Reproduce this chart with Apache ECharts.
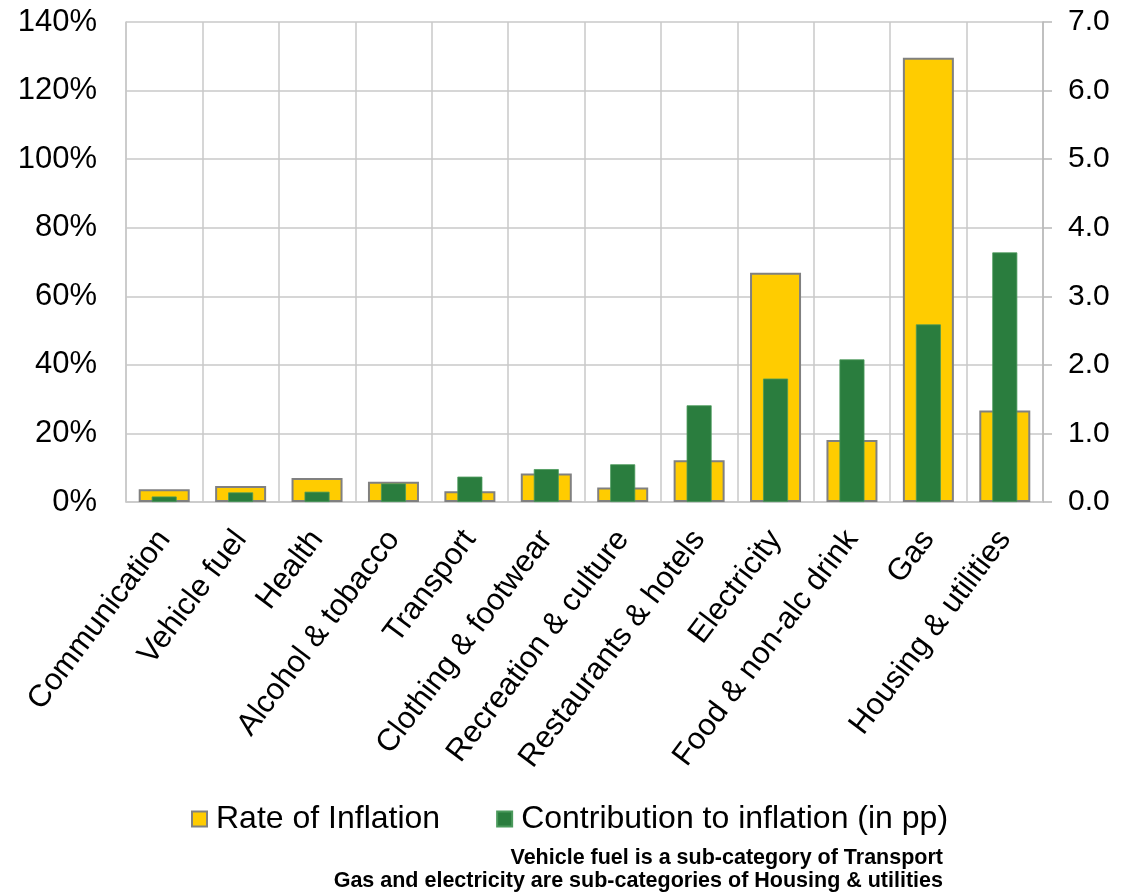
<!DOCTYPE html>
<html>
<head>
<meta charset="utf-8">
<title>Inflation by category</title>
<script src="https://cdn.jsdelivr.net/npm/echarts@6/dist/echarts.min.js"></script>
<style>
  html, body { margin: 0; padding: 0; background: #ffffff; }
  #chart { width: 1132px; height: 892px; }
</style>
</head>
<body>
<div id="chart"></div>
<script>
// Categories, ordered by contribution to inflation
const categories = [
  'Communication', 'Vehicle fuel', 'Health', 'Alcohol & tobacco', 'Transport',
  'Clothing & footwear', 'Recreation & culture', 'Restaurants & hotels',
  'Electricity', 'Food & non-alc drink', 'Gas', 'Housing & utilities'
];
// Annual rate of inflation, in percent (left axis)
const rateOfInflation = [3.7, 4.7, 7.0, 5.9, 3.1, 8.3, 4.2, 12.2, 66.9, 18.1, 129.6, 26.7];
// Contribution to headline inflation, in percentage points (right axis)
const contribution = [0.08, 0.14, 0.15, 0.27, 0.37, 0.48, 0.55, 1.41, 1.80, 2.08, 2.59, 3.64];
// Axis ranges
const leftTicks = { min: 0, max: 140, interval: 20 };
const rightTicks = { min: 0, max: 7, interval: 1 };
// Notes under the legend
const notes = [
  'Vehicle fuel is a sub-category of Transport',
  'Gas and electricity are sub-categories of Housing & utilities'
];

const FONT = '"Liberation Sans", Arial, Helvetica, sans-serif';
const GRID_COLOR = '#c9c9c9';
const YELLOW = '#FFCC00';
const GREEN = '#2A7D3E';

const chart = echarts.init(document.getElementById('chart'), null, { renderer: 'canvas' });

chart.setOption({
  backgroundColor: '#ffffff',
  animation: false,
  textStyle: { fontFamily: FONT },
  grid: { left: 126, right: 89, top: 22, height: 480, containLabel: false },
  legend: {
    left: 191,
    top: 803,
    padding: 0,
    itemWidth: 15,
    itemHeight: 15,
    itemGap: 56,
    icon: 'rect',
    textStyle: { fontSize: 32, color: '#000000', fontFamily: FONT, padding: [0, 0, 0, 4] },
    data: ['Rate of Inflation', 'Contribution to inflation (in pp)']
  },
  xAxis: [
    {
      type: 'category',
      data: categories,
      axisLine: { show: true, lineStyle: { color: GRID_COLOR, width: 1.5 } },
      axisTick: { show: false },
      splitLine: { show: true, interval: 0, lineStyle: { color: GRID_COLOR, width: 1.5 } },
      axisLabel: {
        interval: 0,
        rotate: 53,
        margin: 32,
        fontSize: 31,
        color: '#000000',
        fontFamily: FONT
      }
    },
    {
      type: 'category',
      data: categories,
      show: false
    }
  ],
  yAxis: [
    {
      type: 'value',
      min: leftTicks.min,
      max: leftTicks.max,
      interval: leftTicks.interval,
      axisLine: { show: true, lineStyle: { color: GRID_COLOR, width: 1.5 } },
      axisTick: { show: false },
      splitLine: { show: true, lineStyle: { color: GRID_COLOR, width: 1.5 } },
      axisLabel: {
        margin: 29,
        fontSize: 31,
        color: '#000000',
        fontFamily: FONT,
        formatter: v => v + '%'
      }
    },
    {
      type: 'value',
      position: 'right',
      min: rightTicks.min,
      max: rightTicks.max,
      interval: rightTicks.interval,
      axisLine: { show: true, lineStyle: { color: '#b8b8b8', width: 1.5 } },
      axisTick: { show: true, length: 9, lineStyle: { color: '#b8b8b8', width: 1.5 } },
      splitLine: { show: false },
      axisLabel: {
        margin: 25,
        fontSize: 30,
        color: '#000000',
        fontFamily: FONT,
        formatter: v => v.toFixed(1)
      }
    }
  ],
  series: [
    {
      name: 'Rate of Inflation',
      type: 'bar',
      xAxisIndex: 0,
      yAxisIndex: 0,
      barWidth: 51,
      data: rateOfInflation,
      itemStyle: { color: YELLOW, borderColor: '#808080', borderWidth: 2 },
      z: 2
    },
    {
      name: 'Contribution to inflation (in pp)',
      type: 'bar',
      xAxisIndex: 1,
      yAxisIndex: 1,
      barWidth: 25,
      data: contribution,
      itemStyle: { color: GREEN, borderColor: '#4b9a5c', borderWidth: 0.8 },
      z: 3
    }
  ],
  graphic: notes.map((line, i) => ({
    type: 'text',
    right: 1132 - 943,
    top: 847 + i * 23,
    style: {
      text: line,
      fill: '#000000',
      font: 'bold 21.5px ' + FONT,
      textAlign: 'right'
    }
  }))
});
</script>
</body>
</html>
